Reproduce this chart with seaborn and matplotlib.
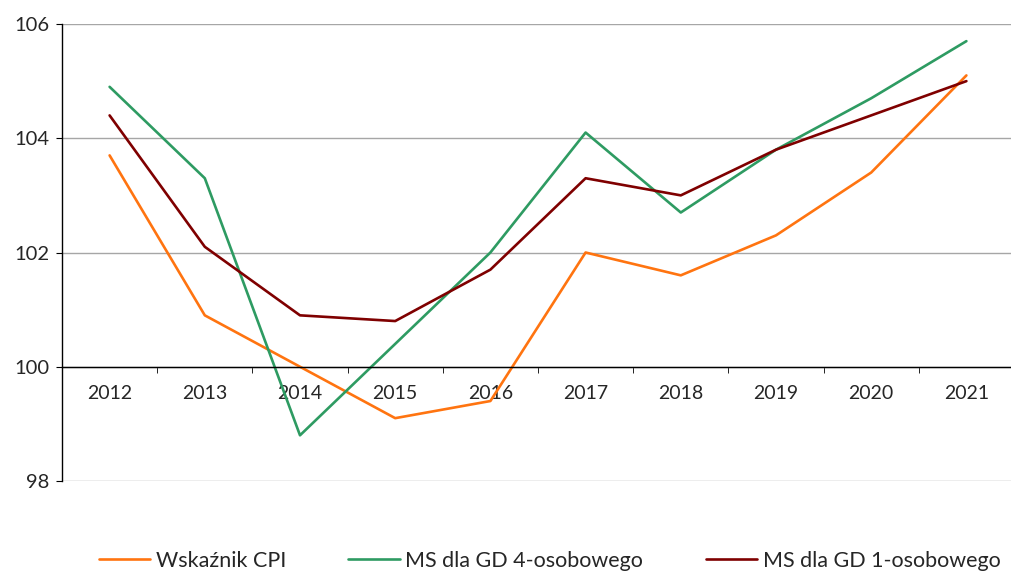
import matplotlib
matplotlib.use("Agg")
import matplotlib.pyplot as plt
import pandas as pd
import seaborn as sns

# Data
years = [2012, 2013, 2014, 2015, 2016, 2017, 2018, 2019, 2020, 2021]
cpi = [103.7, 100.9, 100.0, 99.1, 99.4, 102.0, 101.6, 102.3, 103.4, 105.1]
ms_gd4 = [104.9, 103.3, 98.8, 100.4, 102.0, 104.1, 102.7, 103.8, 104.7, 105.7]
ms_gd1 = [104.4, 102.1, 100.9, 100.8, 101.7, 103.3, 103.0, 103.8, 104.4, 105.0]
series_names = ["Wskaźnik CPI", "MS dla GD 4-osobowego", "MS dla GD 1-osobowego"]
colors = ["#FF7410", "#2E9B62", "#7F0000"]

df = pd.DataFrame({"rok": years, series_names[0]: cpi,
                   series_names[1]: ms_gd4, series_names[2]: ms_gd1})
long_df = df.melt(id_vars="rok", var_name="seria", value_name="wartosc")

sns.set_style("white")
plt.rcParams["font.family"] = ["Lato", "DejaVu Sans"]

fig = plt.figure(figsize=(10.12, 5.72), dpi=100)
ax = fig.add_axes([62 / 1012, 1 - 481 / 572, 952 / 1012, 457 / 572])

sns.lineplot(data=long_df, x="rok", y="wartosc", hue="seria",
             hue_order=series_names, palette=colors, linewidth=1.9,
             ax=ax, legend=True)

ax.set_xlim(2011.5, 2021.5)
ax.set_ylim(98, 106)
ax.set_yticks([98, 100, 102, 104, 106])
ax.set_xticks(years)
ax.set_xticklabels([str(y) for y in years])
ax.set_xticks([y + 0.5 for y in years[:-1]], minor=True)
ax.set_xlabel("")
ax.set_ylabel("")

# gridlines
ax.yaxis.grid(True, color="#A6A6A6", linewidth=1.0)
ax.set_axisbelow(True)

for side in ["top", "right"]:
    ax.spines[side].set_visible(False)
ax.spines["bottom"].set_position(("data", 100))
ax.spines["bottom"].set_color("black")
ax.spines["bottom"].set_linewidth(1.0)
ax.spines["left"].set_color("black")
ax.spines["left"].set_linewidth(1.0)

ax.tick_params(axis="x", which="major", length=0, pad=13, labelsize=14)
ax.tick_params(axis="x", which="minor", length=4, direction="out", color="black")
ax.tick_params(axis="y", length=4, direction="out", color="black", labelsize=14.5, pad=5)
ax.yaxis.set_ticks_position("left")
ax.xaxis.set_ticks_position("bottom")

handles, labels = ax.get_legend_handles_labels()
ax.legend(handles, labels, loc="center", bbox_to_anchor=(0.543, 0.02),
          bbox_transform=fig.transFigure, ncol=3, frameon=False,
          fontsize=15.5, handlelength=2.4, handletextpad=0.25, columnspacing=2.9)

fig.savefig("out.png", dpi=100)
